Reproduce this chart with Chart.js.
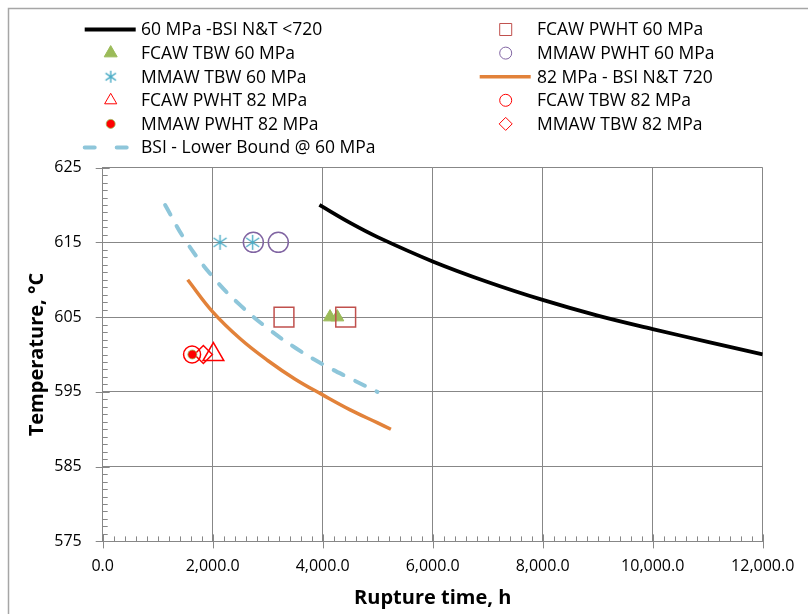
<!DOCTYPE html>
<html>
<head>
<meta charset="utf-8">
<script src="https://cdn.jsdelivr.net/npm/chart.js"></script>
<style>
  body { margin: 0; background: #fff; }
  canvas { display: block; }
</style>
</head>
<body>
<canvas id="chart" width="808" height="614"></canvas>
<script>
// curves (rupture time h, temperature C)
const bsi60X = [3940, 4500, 5000, 6000, 7000, 8000, 9000, 10000, 11000, 12000];
const bsi60Y = [620, 617.6, 615.7, 612.45, 609.7, 607.3, 605.2, 603.4, 601.7, 600];
const bsi82X = [1545, 2000, 2500, 3000, 3500, 4000, 4500, 5000, 5240];
const bsi82Y = [610, 605.7, 602.1, 599.2, 596.7, 594.6, 592.6, 590.85, 590.0];
const lowerX = [1135, 1500, 2000, 2500, 3000, 3500, 4000, 4500, 4995];
const lowerY = [620, 615.3, 610.4, 606.6, 603.5, 600.9, 598.7, 596.8, 595];

// test points
const fcawPwht60X = [3296, 4418];
const fcawPwht60Y = [605, 605];
const fcawTbw60X = [4133, 4265];
const fcawTbw60Y = [605, 605];
const mmawPwht60X = [2739, 3193];
const mmawPwht60Y = [615, 615];
const mmawTbw60X = [2133, 2727];
const mmawTbw60Y = [615, 615];
const fcawPwht82X = [2013];
const fcawPwht82Y = [600];
const fcawTbw82X = [1625];
const fcawTbw82Y = [600];
const mmawPwht82X = [1630];
const mmawPwht82Y = [600];
const mmawTbw82X = [1830];
const mmawTbw82Y = [600];

const xMin = 0, xMax = 12000, xStep = 2000;
const yMin = 575, yMax = 625, yStep = 10;

const FONT = '"Open Sans", Lato, sans-serif';

const pts = (xs, ys) => xs.map((x, i) => ({ x, y: ys[i] }));

// excel-like asterisk marker (vertical + X)
function asterisk(size, color) {
  const c = document.createElement('canvas');
  c.width = size; c.height = size;
  const g = c.getContext('2d');
  const m = size / 2, r = size / 2 - 1;
  g.strokeStyle = color;
  g.lineWidth = 1.4;
  g.beginPath();
  g.moveTo(m, m - r); g.lineTo(m, m + r);
  g.moveTo(m - r * 0.87, m - r * 0.6); g.lineTo(m + r * 0.87, m + r * 0.6);
  g.moveTo(m - r * 0.87, m + r * 0.6); g.lineTo(m + r * 0.87, m - r * 0.6);
  g.stroke();
  return c;
}
const starBig = asterisk(17, '#4BACC6');
const starSmall = asterisk(14, '#4BACC6');

const datasets = [
  { label: '60 MPa -BSI N&T <720', data: pts(bsi60X, bsi60Y), showLine: true,
    borderColor: '#000', borderWidth: 3.8, pointRadius: 0, tension: 0.4 },
  { label: 'FCAW PWHT 60 MPa', data: pts(fcawPwht60X, fcawPwht60Y), pointStyle: 'rect',
    pointRadius: 14, borderColor: '#C0504D', backgroundColor: 'rgba(0,0,0,0)', pointBorderWidth: 1.5, legendRadius: 8.5 },
  { label: 'FCAW TBW 60 MPa', data: pts(fcawTbw60X, fcawTbw60Y), pointStyle: 'triangle',
    pointRadius: 7.5, borderColor: '#9BBB59', backgroundColor: '#9BBB59', pointBorderWidth: 1, legendRadius: 7.5 },
  { label: 'MMAW PWHT 60 MPa', data: pts(mmawPwht60X, mmawPwht60Y), pointStyle: 'circle',
    pointRadius: 10, borderColor: '#8064A2', backgroundColor: 'rgba(0,0,0,0)', pointBorderWidth: 1.5, legendRadius: 6 },
  { label: 'MMAW TBW 60 MPa', data: pts(mmawTbw60X, mmawTbw60Y), pointStyle: starBig,
    pointRadius: 8, borderColor: '#4BACC6', backgroundColor: 'rgba(0,0,0,0)', legendStyle: starSmall },
  { label: '82 MPa - BSI N&T 720', data: pts(bsi82X, bsi82Y), showLine: true,
    borderColor: '#E2823A', borderWidth: 3.5, pointRadius: 0, tension: 0.4 },
  { label: 'FCAW PWHT 82 MPa', data: pts(fcawPwht82X, fcawPwht82Y), pointStyle: 'triangle',
    pointRadius: 12, borderColor: '#FF0000', backgroundColor: 'rgba(0,0,0,0)', pointBorderWidth: 1.5, legendRadius: 7 },
  { label: 'FCAW TBW 82 MPa', data: pts(fcawTbw82X, fcawTbw82Y), pointStyle: 'circle',
    pointRadius: 8.5, borderColor: '#FF0000', backgroundColor: 'rgba(0,0,0,0)', pointBorderWidth: 1.5, legendRadius: 6 },
  { label: 'MMAW PWHT 82 MPa', data: pts(mmawPwht82X, mmawPwht82Y), pointStyle: 'circle',
    pointRadius: 4.5, borderColor: 'rgba(155,187,89,0.8)', backgroundColor: '#FF0000', pointBorderWidth: 1, legendRadius: 4.5 },
  { label: 'MMAW TBW 82 MPa', data: pts(mmawTbw82X, mmawTbw82Y), pointStyle: 'rectRot',
    pointRadius: 9, borderColor: '#FF0000', backgroundColor: 'rgba(0,0,0,0)', pointBorderWidth: 1.5, legendRadius: 6.5 },
  { label: 'BSI - Lower Bound @ 60 MPa', data: pts(lowerX, lowerY), showLine: true,
    borderColor: '#8EC6DA', borderWidth: 4, borderDash: [11, 13], borderCapStyle: 'round',
    pointRadius: 0, tension: 0.4 }
];

// grey frame around the chart object (runs off the right/bottom edge)
const framePlugin = {
  id: 'frame',
  beforeDraw(chart) {
    const ctx = chart.ctx;
    ctx.save();
    ctx.strokeStyle = '#A6A6A6';
    ctx.lineWidth = 1.5;
    ctx.strokeRect(8.5, 8.5, 900, 700);
    ctx.restore();
  }
};

// major ticks cross the axis, minor ticks sit inside
const tickPlugin = {
  id: 'excelTicks',
  afterDraw(chart) {
    const { ctx, chartArea: a, scales: { x, y } } = chart;
    ctx.save();
    ctx.strokeStyle = '#878787';
    ctx.lineWidth = 1;
    ctx.beginPath();
    for (let v = yMin; v <= yMax; v += 1) {
      const py = Math.round(y.getPixelForValue(v)) + 0.5;
      const major = (v - yMin) % yStep === 0;
      ctx.moveTo(a.left - (major ? 7 : 0), py);
      ctx.lineTo(a.left + (major ? 7 : 5), py);
    }
    for (let v = xMin; v <= xMax; v += 200) {
      const px = Math.round(x.getPixelForValue(v)) + 0.5;
      const major = v % xStep === 0;
      ctx.moveTo(px, a.bottom + (major ? 7 : 0));
      ctx.lineTo(px, a.bottom - (major ? 7 : 5));
    }
    ctx.stroke();
    ctx.restore();
  }
};

// two-column legend like the excel one
const legendPlugin = {
  id: 'twoColLegend',
  afterDraw(chart) {
    const ctx = chart.ctx;
    const markX = [110.7, 505.7];
    const textX = [141, 537];
    const top = 29.5, step = 23.6;
    chart.data.datasets.forEach((ds, i) => {
      const col = i % 2, row = Math.floor(i / 2);
      const cx = markX[col], cy = top + row * step;
      ctx.save();
      if (ds.showLine) {
        ctx.strokeStyle = ds.borderColor;
        ctx.lineWidth = ds.borderWidth;
        ctx.lineCap = ds.borderCapStyle || 'butt';
        ctx.setLineDash(ds.borderDash ? [10, 22] : []);
        ctx.beginPath();
        ctx.moveTo(cx - 26, cy);
        ctx.lineTo(cx + 25, cy);
        ctx.stroke();
      } else {
        ctx.strokeStyle = ds.borderColor;
        ctx.fillStyle = ds.backgroundColor;
        Chart.helpers.drawPoint(ctx, {
          pointStyle: ds.legendStyle || ds.pointStyle,
          radius: ds.legendRadius || 6,
          rotation: 0,
          borderWidth: ds.pointBorderWidth || 1
        }, cx, cy);
      }
      ctx.restore();
      ctx.save();
      ctx.fillStyle = '#000';
      ctx.font = '17.5px ' + FONT;
      ctx.textBaseline = 'middle';
      ctx.fillText(ds.label, textX[col], cy + 1);
      ctx.restore();
    });
  }
};

new Chart(document.getElementById('chart'), {
  type: 'scatter',
  data: { datasets },
  options: {
    responsive: false,
    animation: false,
    layout: { padding: { top: 167.6, left: 0, right: 45.3, bottom: 0 } },
    plugins: { legend: { display: false }, tooltip: { enabled: false } },
    scales: {
      x: {
        type: 'linear', min: xMin, max: xMax,
        ticks: {
          stepSize: xStep, color: '#000', padding: 15,
          font: { family: FONT, size: 16 },
          callback: v => v.toLocaleString('en-US', { minimumFractionDigits: 1, maximumFractionDigits: 1 })
        },
        grid: { color: '#878787', drawTicks: false },
        border: { color: '#878787' },
        title: { display: true, text: 'Rupture time, h', color: '#000',
          font: { family: FONT, size: 20, weight: 'bold' }, padding: { top: 0, bottom: 4 } },
        afterFit(s) { s.height = 72.6; s.paddingLeft = 0; s.paddingRight = 0; }
      },
      y: {
        type: 'linear', min: yMin, max: yMax,
        ticks: { stepSize: yStep, color: '#000', padding: 21, font: { family: FONT, size: 16 } },
        grid: { color: '#878787', drawTicks: false },
        border: { color: '#878787' },
        title: { display: true, text: 'Temperature, °C', color: '#000',
          font: { family: FONT, size: 20, weight: 'bold' }, padding: { top: 25, bottom: 0 } },
        afterFit(s) { s.width = 102.7; s.paddingTop = 0; s.paddingBottom = 0; }
      }
    }
  },
  plugins: [framePlugin, tickPlugin, legendPlugin]
});
</script>
</body>
</html>
